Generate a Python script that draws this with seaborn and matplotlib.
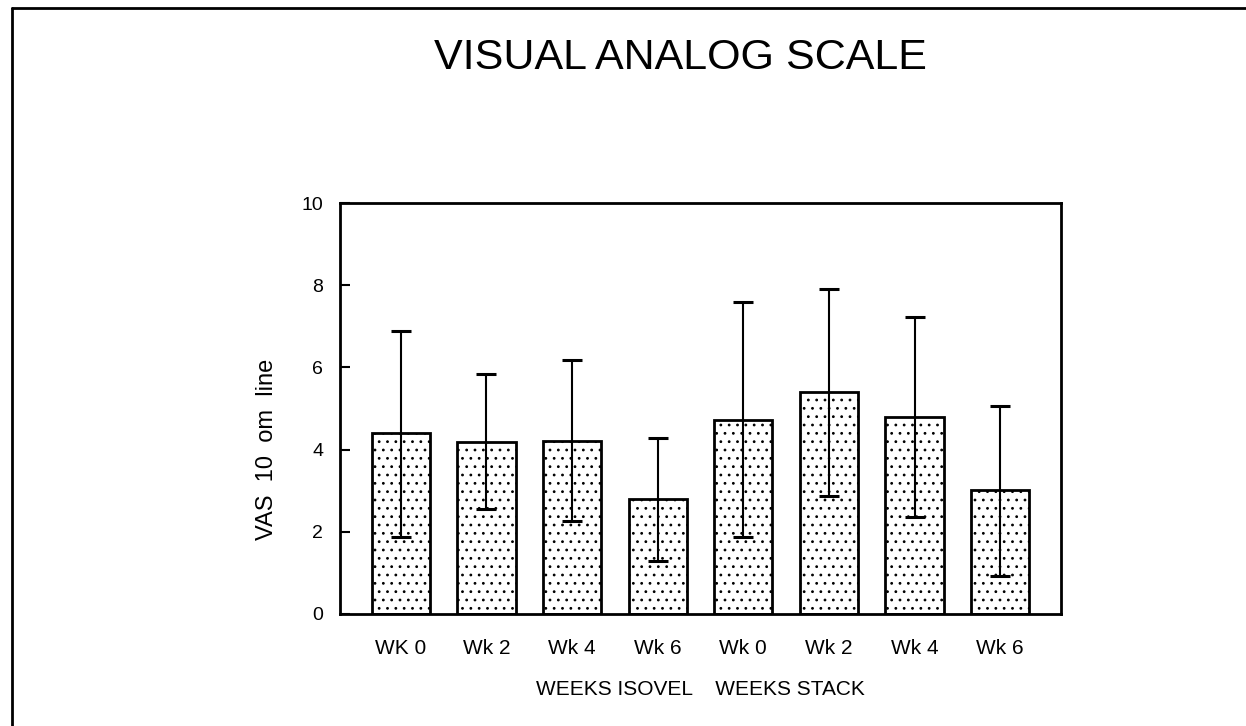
import matplotlib
matplotlib.use("Agg")
import matplotlib.pyplot as plt
from matplotlib.lines import Line2D
import numpy as np
import pandas as pd
import seaborn as sns

# Mean VAS score per visit, with lower / upper ends of the error bars
groups = ["ISOVEL"] * 4 + ["STACK"] * 4
weeks = ["Wk 0", "Wk 2", "Wk 4", "Wk 6", "Wk 0", "Wk 2", "Wk 4", "Wk 6"]
tick_labels = ["WK 0", "Wk 2", "Wk 4", "Wk 6", "Wk 0", "Wk 2", "Wk 4", "Wk 6"]
means = [4.40, 4.19, 4.22, 2.79, 4.73, 5.40, 4.79, 3.01]
err_low = [1.87, 2.55, 2.26, 1.28, 1.87, 2.86, 2.36, 0.92]
err_high = [6.88, 5.83, 6.19, 4.29, 7.60, 7.91, 7.22, 5.05]

df = pd.DataFrame({
    "slot": [f"{g} {w}" for g, w in zip(groups, weeks)],
    "group": groups,
    "week": weeks,
    "vas": means,
})

sns.set_theme(style="white")
plt.rcParams["font.family"] = ["Liberation Sans", "DejaVu Sans"]
plt.rcParams["hatch.linewidth"] = 0.8
plt.rcParams["hatch.color"] = "black"

fig = plt.figure(figsize=(12.46, 7.26), dpi=100)
ax = fig.add_axes([340 / 1246, 1 - 614 / 726, 721 / 1246, 411 / 726])

sns.barplot(data=df, x="slot", y="vas", order=list(df["slot"]),
            color="white", edgecolor="black", linewidth=2.0,
            width=0.68, errorbar=None, ax=ax)
for bar in ax.patches:
    bar.set_hatch("..")
    bar.set_facecolor("white")

x = np.arange(len(means))
m = np.array(means)
yerr = np.vstack([m - np.array(err_low), np.array(err_high) - m])
ax.errorbar(x, m, yerr=yerr, fmt="none", ecolor="black",
            elinewidth=1.5, capsize=7, capthick=2.2, zorder=5)

ax.set_ylim(0, 10)
ax.set_xlim(-0.71, 7.71)
ax.set_yticks([0, 2, 4, 6, 8, 10])
ax.set_yticklabels(["0", "2", "4", "6", "8", "10"], fontsize=14)
ax.set_xticks(x)
ax.set_xticklabels(tick_labels, fontsize=15)
ax.tick_params(axis="y", direction="in", length=7, width=1.5,
               left=True, pad=12, colors="black")
ax.tick_params(axis="x", length=0, pad=18, colors="black")
for side in ["left", "right", "top", "bottom"]:
    ax.spines[side].set_visible(True)
    ax.spines[side].set_color("black")
    ax.spines[side].set_linewidth(2.0)

ax.set_xlabel("WEEKS ISOVEL    WEEKS STACK", fontsize=15, color="black",
              labelpad=16)
ax.set_ylabel("VAS  10  om  line", fontsize=17, color="black")
ax.yaxis.set_label_coords(-0.086, 0.40)

fig.text(680 / 1246, 1 - 58 / 726, "VISUAL ANALOG SCALE", fontsize=31,
         ha="center", va="center", color="black")

# Page frame around the chart
fig.add_artist(Line2D([12 / 1246, 12 / 1246], [0, 1 - 8 / 726],
                      transform=fig.transFigure, color="black", lw=2))
fig.add_artist(Line2D([12 / 1246, 1], [1 - 8 / 726, 1 - 8 / 726],
                      transform=fig.transFigure, color="black", lw=2))

fig.savefig("out.png", dpi=100, facecolor="white")
